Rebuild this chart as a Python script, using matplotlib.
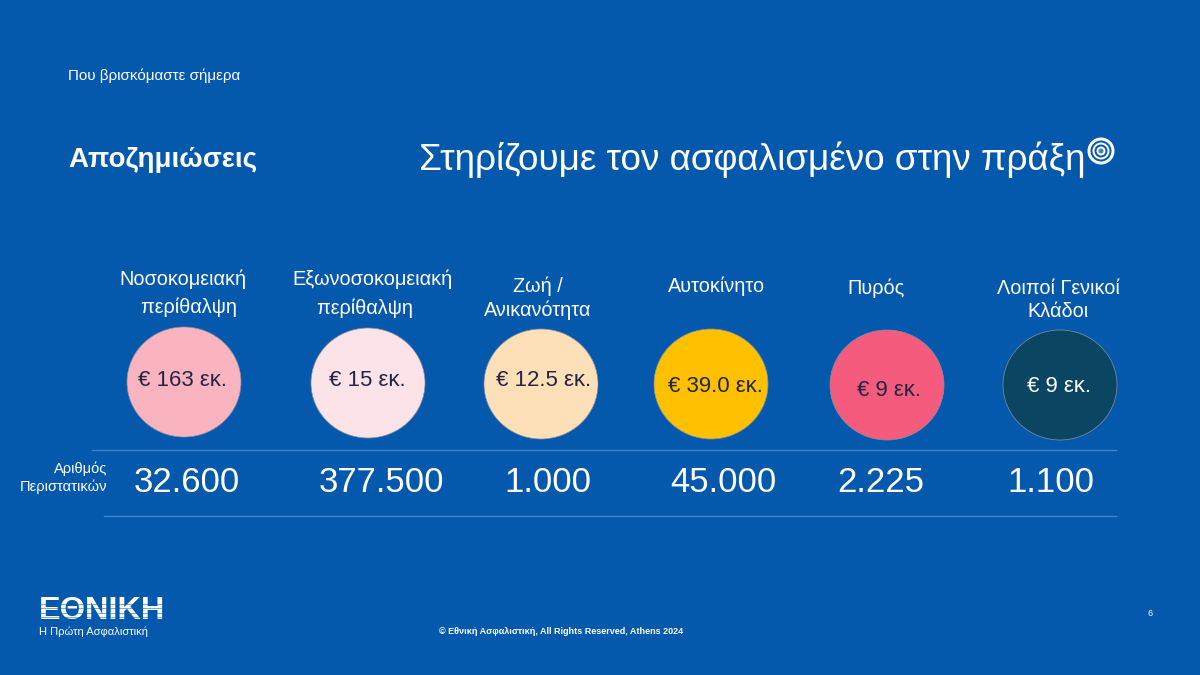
#!/usr/bin/env python3
"""Slide: claims paid per insurance line, with number of cases."""

import matplotlib
matplotlib.use('Agg')
import matplotlib.pyplot as plt
from matplotlib.patches import Ellipse, Circle, Rectangle

plt.rcParams['font.family'] = ['Liberation Sans', 'DejaVu Sans']

# Data
categories = ['Νοσοκομειακή\n  περίθαλψη', 'Εξωνοσοκομειακή\nπερίθαλψη   ', 'Ζωή /\nΑνικανότητα',
              'Αυτοκίνητο', 'Πυρός', 'Λοιποί Γενικοί\nΚλάδοι']
amounts = ['€ 163 εκ.', '€ 15 εκ.', '€ 12.5 εκ.', '€ 39.0 εκ.', '€ 9 εκ.', '€ 9 εκ.']
cases = ['32.600', '377.500', '1.000', '45.000', '2.225', '1.100']

# Layout (pixels)
BG = '#0559AC'
circle_colors = ['#F9B4C0', '#FBE3E8', '#FEE0B8', '#FFC000', '#F45B7C', '#0A4662']
amount_colors = ['#232544', '#232544', '#232544', '#232544', '#232544', '#FFFFFF']
circle_x = [184, 368, 541, 711, 887, 1060]
circle_y = [382, 383, 384, 384, 385, 385]
amount_x = [182, 367, 544, 715, 889, 1059]
amount_y = [380, 381, 380, 387, 390, 387]
label_x = [183, 373, 538, 717, 876, 1058]
label_y = [293, 294, 298, 286, 288, 300]
label_spacing = [1.55, 1.6, 1.3, 1.2, 1.2, 1.3]
case_x = [187, 381, 548, 723, 881, 1051]

fig = plt.figure(figsize=(12, 6.75), dpi=100, facecolor=BG)
ax = fig.add_axes([0, 0, 1, 1])
ax.set_xlim(0, 1200)
ax.set_ylim(675, 0)
ax.set_aspect('equal')
ax.axis('off')

# Header
ax.text(68, 76, 'Που βρισκόμαστε σήμερα', color='white', fontsize=10.9, va='center')
ax.text(68, 160, 'Αποζημιώσεις', color='white', fontsize=20, fontweight='bold', va='center')
ax.text(419, 160, 'Στηρίζουμε τον ασφαλισμένο στην πράξη', color='white', fontsize=26.6, va='center')

# Target mark next to the title
for radius, color in [(13.5, 'white'), (10.5, BG), (8.5, 'white'), (6.5, BG), (4.5, 'white'), (2.5, '#3F7FC0')]:
    ax.add_patch(Circle((1101, 151), radius, facecolor=color, edgecolor='none'))

# Category columns
for i, name in enumerate(categories):
    ax.text(label_x[i], label_y[i], name, color='white', fontsize=14.3, ha='center', va='center',
            linespacing=label_spacing[i])
    ax.add_patch(Ellipse((circle_x[i], circle_y[i]), 114, 110, facecolor=circle_colors[i],
                         edgecolor='#8A8FA0', linewidth=0.5))
    ax.text(amount_x[i], amount_y[i], amounts[i], color=amount_colors[i], fontsize=16,
            ha='center', va='center')
    ax.text(case_x[i], 483, cases[i], color='white', fontsize=25, ha='center', va='center')

# Rows of the cases band
ax.plot([92, 1116], [449.5, 449.5], color='#3F84C8', linewidth=1)
ax.plot([104, 1116], [515.5, 515.5], color='#3F84C8', linewidth=1)
ax.text(107, 478, 'Αριθμός\nΠεριστατικών', color='white', fontsize=10.5, ha='right', va='center',
        linespacing=1.3)

# Logo: bold word cut by thin stripes
ax.text(39, 611, 'ΕΘΝΙΚΗ', color='white', fontsize=23.4, fontweight='bold', va='center')
for y in (603.5, 608, 612.5, 617):
    ax.add_patch(Rectangle((38, y), 128, 1.0, facecolor=BG, edgecolor='none', alpha=0.5, zorder=5))
ax.text(39, 632, 'Η Πρώτη Ασφαλιστική', color='white', fontsize=8, va='center')

# Footer
ax.text(561, 631, '© Εθνική Ασφαλιστική, All Rights Reserved, Athens 2024', color='white',
        fontsize=6.5, fontweight='bold', ha='center', va='center')
ax.text(1150, 613, '6', color='white', fontsize=6.5, ha='center', va='center')

fig.savefig('out.png', dpi=100, facecolor=BG)
plt.close(fig)
